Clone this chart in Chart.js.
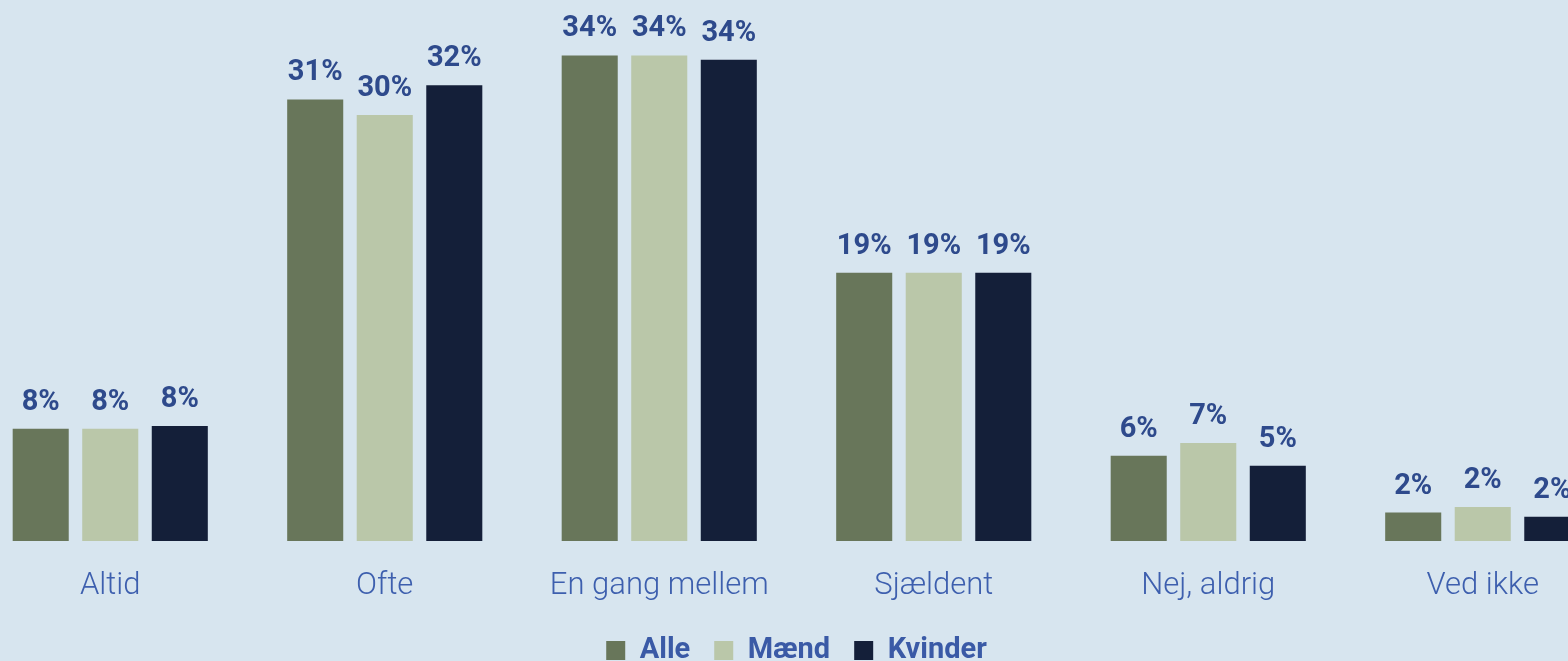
<!DOCTYPE html>
<html><head><meta charset="utf-8">
<script src="https://cdn.jsdelivr.net/npm/chart.js@4/dist/chart.umd.min.js"></script>
<style>
html,body{margin:0;padding:0;background:#d7e5ef;overflow:hidden;width:1568px;height:661px;}
#wrap{position:absolute;left:-27px;top:0;width:1647px;height:675px;}
</style></head>
<body><div id="wrap"><canvas id="c" width="1647" height="675"></canvas></div>
<script>
const categories = ["Altid","Ofte","En gang mellem","Sjældent","Nej, aldrig","Ved ikke"];
const seriesNames = ["Alle","Mænd","Kvinder"];
const alle    = [7.9, 31.1, 34.2, 18.9, 6.0, 2.0];
const maend   = [7.9, 30.0, 34.2, 18.9, 6.9, 2.4];
const kvinder = [8.1, 32.1, 33.9, 18.9, 5.3, 1.7];
const labelsAlle    = ["8%","31%","34%","19%","6%","2%"];
const labelsMaend   = ["8%","30%","34%","19%","7%","2%"];
const labelsKvinder = ["8%","32%","34%","19%","5%","2%"];
const colors = ["#68765a","#bac7a9","#141f39"];

const valueLabels = {
  id:'valueLabels',
  afterDatasetsDraw(chart){
    const ctx = chart.ctx;
    const lbls = [labelsAlle, labelsMaend, labelsKvinder];
    ctx.save();
    ctx.font = 'bold 29px Roboto';
    ctx.fillStyle = '#2e4a8c';
    ctx.textAlign = 'center';
    ctx.textBaseline = 'alphabetic';
    chart.data.datasets.forEach((ds, i) => {
      chart.getDatasetMeta(i).data.forEach((bar, j) => {
        ctx.fillText(lbls[i][j], bar.x, bar.y - 19);
      });
    });
    ctx.restore();
  }
};

new Chart(document.getElementById('c'), {
  type: 'bar',
  data: {
    labels: categories,
    datasets: [
      {label: seriesNames[0], data: alle, backgroundColor: colors[0]},
      {label: seriesNames[1], data: maend, backgroundColor: colors[1]},
      {label: seriesNames[2], data: kvinder, backgroundColor: colors[2]}
    ]
  },
  options: {
    responsive: false,
    animation: false,
    categoryPercentage: 0.76,
    barPercentage: 0.806,
    layout: {padding: 0},
    plugins: {
      legend: {
        position: 'bottom',
        labels: {
          boxWidth: 19, boxHeight: 19,
          color: '#3a5aa6',
          font: {family: 'Roboto', weight: 'bold', size: 29},
          padding: 24
        }
      },
      tooltip: {enabled: false}
    },
    scales: {
      x: {
        grid: {display: false},
        border: {display: false},
        ticks: {color: '#3d5fae', font: {family: 'Roboto', weight: '300', size: 31}, padding: 19},
        afterFit(s){ s.height = 71; }
      },
      y: {display: false, min: 0, max: 38.1}
    }
  },
  plugins: [valueLabels]
});
</script></body></html>
